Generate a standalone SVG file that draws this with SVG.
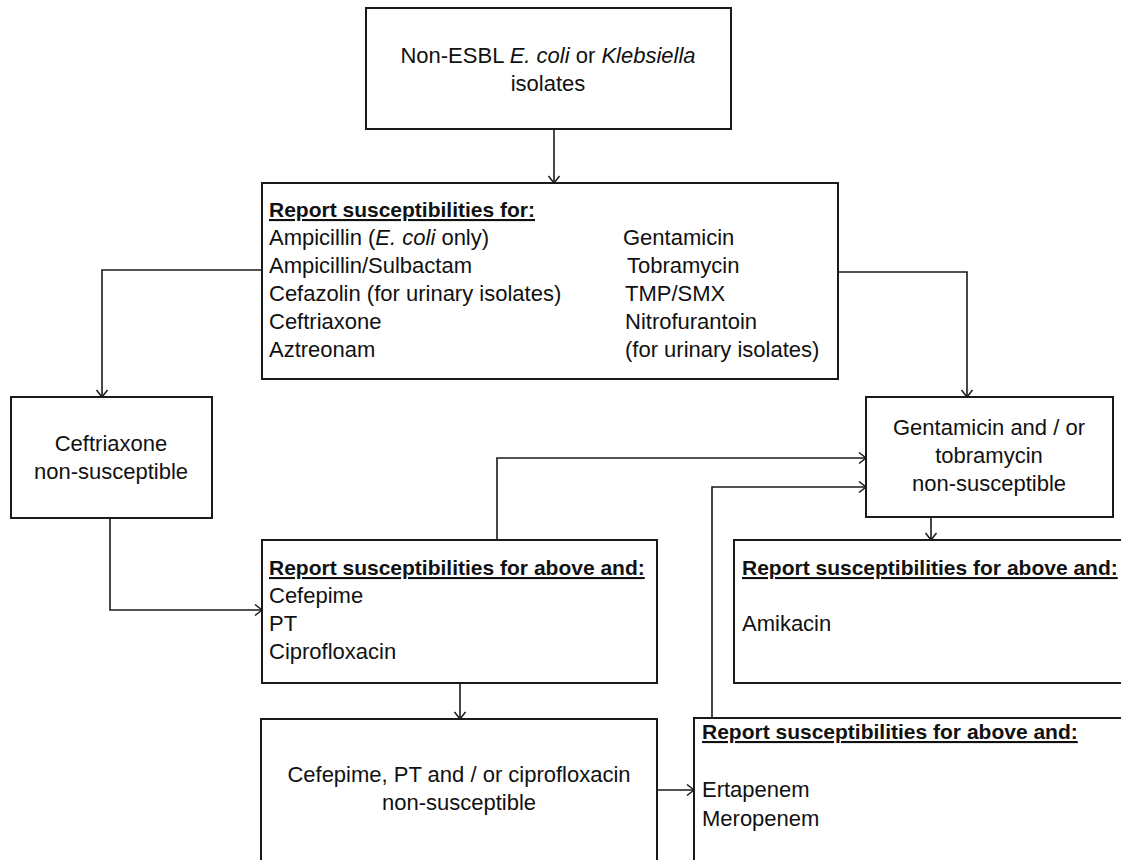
<svg xmlns="http://www.w3.org/2000/svg" width="1121" height="860" viewBox="0 0 1121 860">
<style>
  .box { fill: #fff; stroke: #1a1a1a; stroke-width: 2; }
  .conn { fill: none; stroke: #1a1a1a; stroke-width: 1.6; }
  text { font-family: "Liberation Sans", Arial, sans-serif; font-size: 22px; fill: #111; }
  .hd { font-weight: bold; font-size: 21px; text-decoration: underline; }
  .c { text-anchor: middle; }
  .i { font-style: italic; }
</style>
<defs>
  <marker id="arr" markerUnits="userSpaceOnUse" markerWidth="12" markerHeight="14" refX="7" refY="6" orient="auto" overflow="visible">
    <path d="M0,0.5 L7,6 L0,11.5" fill="none" stroke="#1a1a1a" stroke-width="1.5"/>
  </marker>
</defs>
<rect width="1121" height="860" fill="#fff"/>

<g id="connectors">
  <path class="conn" d="M554,129 V183" marker-end="url(#arr)"/>
  <path class="conn" d="M262,270 H102 V397" marker-end="url(#arr)"/>
  <path class="conn" d="M838,272 H967 V397" marker-end="url(#arr)"/>
  <path class="conn" d="M110,518 V610 H262" marker-end="url(#arr)"/>
  <path class="conn" d="M497,540 V458 H866" marker-end="url(#arr)"/>
  <path class="conn" d="M712,718 V487 H866" marker-end="url(#arr)"/>
  <path class="conn" d="M931,517 V540" marker-end="url(#arr)"/>
  <path class="conn" d="M460,683 V719" marker-end="url(#arr)"/>
  <path class="conn" d="M657,790 H694" marker-end="url(#arr)"/>
</g>

<g id="node-start">
  <rect class="box" x="366" y="8" width="365" height="121"/>
  <text class="c" x="548" y="63">Non-ESBL <tspan class="i">E. coli</tspan> or <tspan class="i">Klebsiella</tspan></text>
  <text class="c" x="548" y="91">isolates</text>
</g>

<g id="node-report-base">
  <rect class="box" x="262" y="183" width="576" height="196"/>
  <text class="hd" x="269" y="217">Report susceptibilities for:</text>
  <text x="269" y="245">Ampicillin (<tspan class="i">E. coli</tspan> only)</text>
  <text x="269" y="273">Ampicillin/Sulbactam</text>
  <text x="269" y="301">Cefazolin (for urinary isolates)</text>
  <text x="269" y="329">Ceftriaxone</text>
  <text x="269" y="357">Aztreonam</text>
  <text x="623" y="245">Gentamicin</text>
  <text x="627" y="273">Tobramycin</text>
  <text x="625" y="301">TMP/SMX</text>
  <text x="625" y="329">Nitrofurantoin</text>
  <text x="625" y="357">(for urinary isolates)</text>
</g>

<g id="node-ceftriaxone-ns">
  <rect class="box" x="11" y="397" width="201" height="121"/>
  <text class="c" x="111" y="451">Ceftriaxone</text>
  <text class="c" x="111" y="479">non-susceptible</text>
</g>

<g id="node-aminoglycoside-ns">
  <rect class="box" x="866" y="397" width="247" height="120"/>
  <text class="c" x="989" y="435">Gentamicin and / or</text>
  <text class="c" x="989" y="463">tobramycin</text>
  <text class="c" x="989" y="491">non-susceptible</text>
</g>

<g id="node-report-cefepime">
  <rect class="box" x="262" y="540" width="395" height="143"/>
  <text class="hd" x="269" y="575">Report susceptibilities for above and:</text>
  <text x="269" y="603">Cefepime</text>
  <text x="269" y="631">PT</text>
  <text x="269" y="659">Ciprofloxacin</text>
</g>

<g id="node-report-amikacin">
  <rect class="box" x="734" y="540" width="400" height="143"/>
  <text class="hd" x="742" y="575">Report susceptibilities for above and:</text>
  <text x="742" y="631">Amikacin</text>
</g>

<g id="node-cefepime-ns">
  <rect class="box" x="261" y="719" width="396" height="160"/>
  <text class="c" x="459" y="782">Cefepime, PT and / or ciprofloxacin</text>
  <text class="c" x="459" y="810">non-susceptible</text>
</g>

<g id="node-report-carbapenem">
  <rect class="box" x="694" y="718" width="440" height="160"/>
  <text class="hd" x="702" y="739">Report susceptibilities for above and:</text>
  <text x="702" y="797">Ertapenem</text>
  <text x="702" y="826">Meropenem</text>
</g>
</svg>
